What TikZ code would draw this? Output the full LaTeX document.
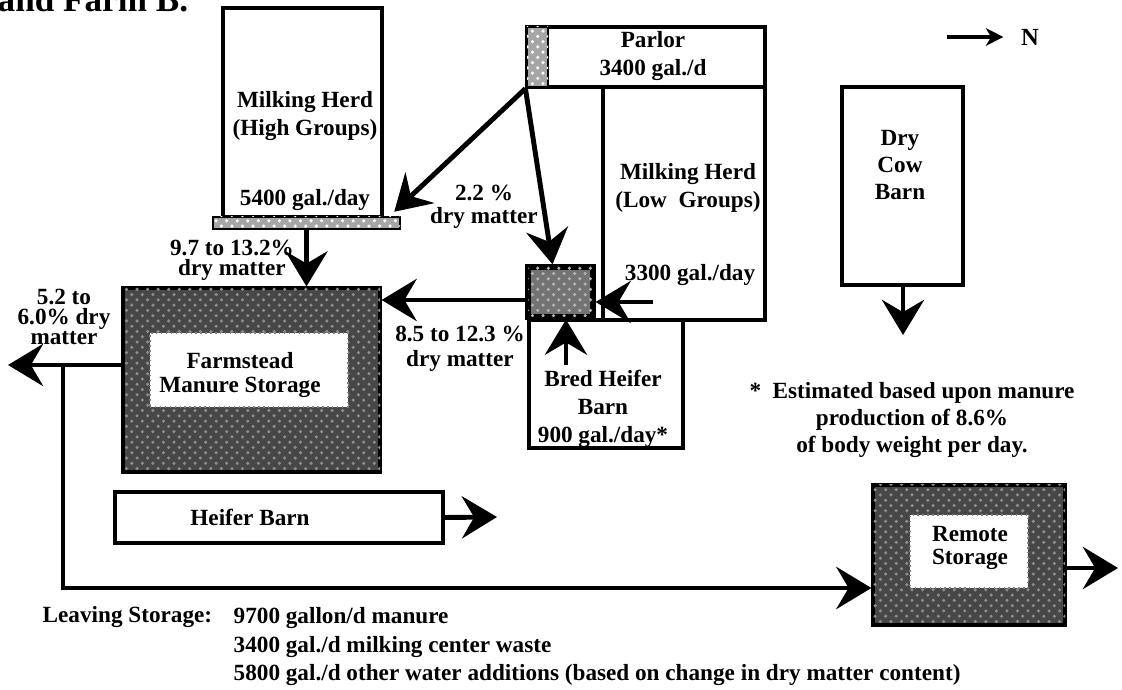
\documentclass[tikz,border=0pt]{standalone}
\usepackage{fontspec}
\setmainfont{Liberation Serif}
\usetikzlibrary{arrows.meta,calc,patterns}
\begin{document}
\begin{tikzpicture}[x=0.1mm, y=-0.1mm,
  every node/.style={font=\fontsize{6.6}{8}\selectfont\bfseries, align=center, inner sep=0pt},
  barn/.style={draw, line width=0.9pt, rectangle},
  tank/.style={draw, line width=0.9pt, fill=black!72, postaction={pattern=crosshatch dots, pattern color=white!55!black}},
  pad/.style={draw, line width=0.7pt, fill=black!35, postaction={pattern=crosshatch dots, pattern color=white}},
  flow/.style={line width=1.4pt, -{Stealth[length=10pt, width=12pt, inset=3.5pt]}}]
  \useasboundingbox (0,0) rectangle (1122,690);
  % title line, cut at the top edge
  \node[anchor=base west, font=\fontsize{10}{12}\selectfont\bfseries] (title) at (-3,12) {and Farm B.};
  % herds and parlor
  \node[barn, minimum width=15.9mm, minimum height=20.9mm] (high) at (302.5,112.5) {};
  \node (hightxt) at (305,116) {Milking Herd\\(High Groups)};
  \node (highgal) at (305,200) {5400 gal./day};
  \node[pad, minimum width=18.7mm, minimum height=1.2mm] (hbar) at (306.5,223) {};
  \node[barn, minimum width=23.8mm, minimum height=6mm] (parlor) at (646,57) {};
  \node[pad, minimum width=2.1mm, minimum height=6mm] (strip) at (537.5,57) {};
  \node (parlortxt) at (653,56) {Parlor\\3400 gal./d};
  \node[barn, minimum width=16.2mm, minimum height=23.3mm] (low) at (684,203.5) {};
  \node (lowtxt) at (688,188) {Milking Herd\\(Low\ \ Groups)};
  \node (lowgal) at (690,275) {3300 gal./day};
  \node[draw, line width=1.5pt, fill=black!55, postaction={pattern=crosshatch dots, pattern color=white!70!black},
        minimum width=6.5mm, minimum height=5mm] (sump) at (560.5,292) {};
  \node[barn, minimum width=15.4mm, minimum height=12.8mm] (bred) at (606,384) {};
  \node (bredtxt) at (603,409) {Bred Heifer\\Barn\\900 gal./day*};
  \node[barn, minimum width=12.1mm, minimum height=19.8mm] (dry) at (902.5,186) {};
  \node[font=\fontsize{6.6}{7.8}\selectfont\bfseries] (drytxt) at (900,165) {Dry\\Cow\\Barn};
  % storages
  \node[tank, minimum width=25.7mm, minimum height=18.4mm] (store) at (251.5,380) {};
  \node[fill=white, draw=black!50, densely dotted, line width=0.4pt, minimum width=19.8mm, minimum height=7.4mm] (storein) at (249,370) {};
  \node[font=\fontsize{6.6}{6.8}\selectfont\bfseries] (storetxt) at (240,375) {Farmstead\\Manure Storage};
  \node[barn, minimum width=32.8mm, minimum height=5.1mm] (heifer) at (279,517.5) {};
  \node (heifertxt) at (250,517) {Heifer Barn};
  \node[tank, minimum width=19.2mm, minimum height=14mm] (remote) at (969,555) {};
  \node[fill=white, draw=black!50, densely dotted, line width=0.4pt, minimum width=11.8mm, minimum height=7.3mm] (remotein) at (969,551.5) {};
  \node[font=\fontsize{6.6}{6.3}\selectfont\bfseries] (remotetxt) at (970,548) {Remote\\Storage};
  % flows
  \coordinate (lowout) at (653,302);
  \coordinate (bredout) at (566,365);
  \coordinate (sumpout) at ($(sump.west)+(0,8)$);
  \coordinate (outtip) at (8,365);
  \coordinate (pipe) at (63,588);
  \coordinate (remtip) at (1118,568);
  \coordinate (heiftip) at (497,517);
  \coordinate (drytip) at (903,335);
  \draw[flow] (hbar.south) -- (hbar.south |- store.north);
  \draw[flow] (parlor.south west) -- ($(hbar.north east)+(-7,-4)$);
  \draw[flow] (parlor.south west) -- ($(sump.north)+(-8,0)$);
  \draw[flow] (lowout) -- (lowout -| sump.east);
  \draw[flow] (bredout) -- (bredout |- sump.south);
  \draw[flow] (sumpout) -- (sumpout -| store.east);
  \draw[flow] (outtip -| store.west) -- (outtip);
  \draw[flow] (pipe |- outtip) -- (pipe) -- (pipe -| remote.west);
  \draw[flow] (remtip -| remote.east) -- (remtip);
  \draw[flow] (heifer.east) -- (heiftip);
  \draw[flow] (drytip |- dry.south) -- (drytip);
  % north marker
  \coordinate (ntail) at (947,37);
  \node[font=\fontsize{7}{8}\selectfont\bfseries] (north) at (1030,37) {N};
  \draw[line width=1pt, -{Stealth[length=5pt, width=5pt, inset=1.5pt]}] (ntail) -- ($(north.west)+(-17,0)$);
  % dry matter labels
  \node[font=\fontsize{6.6}{5.7}\selectfont\bfseries] (lblhigh) at (232,260) {9.7 to 13.2\%\\dry matter};
  \node[font=\fontsize{6.6}{6.5}\selectfont\bfseries] (lblpar) at (484,207) {2.2 \%\\dry matter};
  \node[font=\fontsize{6.6}{7.1}\selectfont\bfseries] (lblsump) at (460,349) {8.5 to 12.3 \%\\dry matter};
  \node[font=\fontsize{6.6}{5.7}\selectfont\bfseries] (lblout) at (64,317) {5.2 to\\6.0\% dry\\matter};
  % notes
  \node[font=\fontsize{6.6}{7.8}\selectfont\bfseries] (note) at (912,420) {*\ \ Estimated based upon manure\\production of 8.6\%\\of body weight per day.};
  \node[anchor=west] (leave) at (42,617) {Leaving Storage:};
  \node[anchor=north west, align=left, font=\fontsize{6.6}{8.1}\selectfont\bfseries] (leavelist) at (233,607)
    {9700 gallon/d manure\\3400 gal./d milking center waste\\5800 gal./d other water additions (based on change in dry matter content)};
\end{tikzpicture}
\end{document}
